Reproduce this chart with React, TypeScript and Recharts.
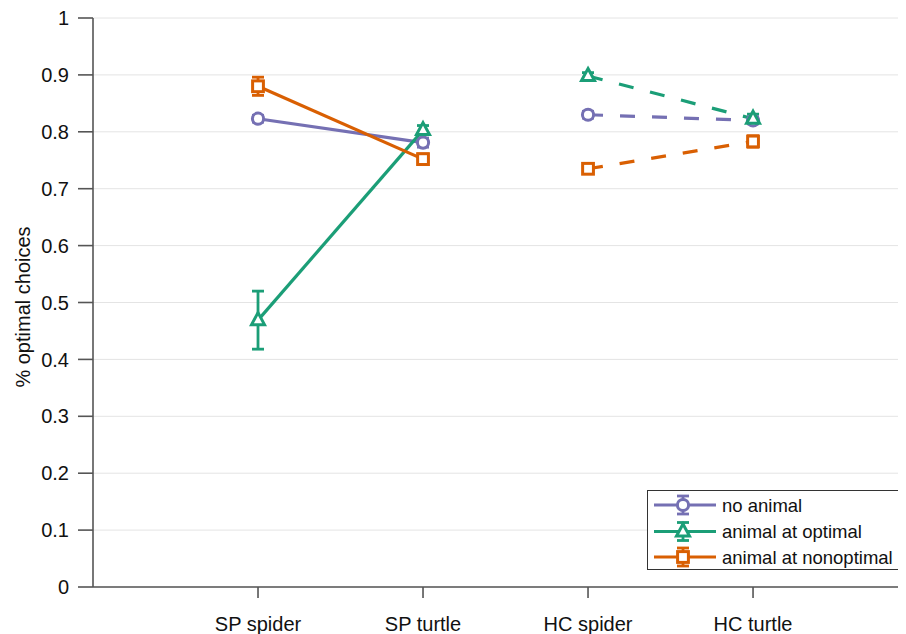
import React from 'react';
import { LineChart, Line, XAxis, YAxis, CartesianGrid, ErrorBar } from 'recharts';

const categories = ['SP spider', 'SP turtle', 'HC spider', 'HC turtle'];
const seriesNames = ['no animal', 'animal at optimal', 'animal at nonoptimal'];
const noAnimal = [0.823, 0.781, 0.830, 0.820];
const noAnimalErr = [0.006, 0.008, 0.006, 0.006];
const optimal = [0.469, 0.803, 0.898, 0.823];
const optimalErr = [0.051, 0.008, 0.006, 0.008];
const nonoptimal = [0.880, 0.752, 0.735, 0.783];
const nonoptimalErr = [0.016, 0.009, 0.006, 0.010];
const yTicks = [0, 0.1, 0.2, 0.3, 0.4, 0.5, 0.6, 0.7, 0.8, 0.9, 1];

const COLORS = ['#7570b3', '#1b9e77', '#d95f02'];
const FONT = '"Liberation Sans", Arial, Helvetica, sans-serif';
const W = 898;
const H = 626;

type Shape = 'circle' | 'triangle' | 'square';

function markerEl(shape: Shape, color: string, cx: number, cy: number, key?: string | number) {
  const sw = 3;
  if (shape === 'circle') {
    return <circle key={key} cx={cx} cy={cy} r={5.6} fill="#fff" stroke={color} strokeWidth={sw} />;
  }
  if (shape === 'square') {
    return <rect key={key} x={cx - 5.4} y={cy - 5.4} width={10.8} height={10.8} fill="#fff" stroke={color} strokeWidth={sw} />;
  }
  const pts = `${cx},${cy - 7.5} ${cx + 6.5},${cy + 4.5} ${cx - 6.5},${cy + 4.5}`;
  return <polygon key={key} points={pts} fill="#fff" stroke={color} strokeWidth={sw} strokeLinejoin="miter" />;
}

const makeDot = (shape: Shape, color: string) => (props: any) => {
  const { cx, cy, index } = props;
  if (cx == null || cy == null) return <g key={`d-${index}`} />;
  return markerEl(shape, color, cx, cy, `d-${index}`);
};

function build(vals: number[], errs: number[], idx: number[]) {
  return idx.map((i) => ({ x: i + 1, y: vals[i], err: errs[i] }));
}

const series = [
  { name: seriesNames[0], vals: noAnimal, errs: noAnimalErr, color: COLORS[0], shape: 'circle' as Shape },
  { name: seriesNames[1], vals: optimal, errs: optimalErr, color: COLORS[1], shape: 'triangle' as Shape },
  { name: seriesNames[2], vals: nonoptimal, errs: nonoptimalErr, color: COLORS[2], shape: 'square' as Shape },
];

const YLabel = () => (
  <text
    x={15}
    y={299}
    transform="rotate(-90 15 299)"
    textAnchor="middle"
    dominantBaseline="central"
    fontSize={20}
    fill="#111"
    fontFamily={FONT}
  >
    % optimal choices
  </text>
);

const fmtY = (v: number) => (v === 0 ? '0' : v === 1 ? '1' : v.toFixed(1));

function LegendBox() {
  const rows = [15, 41.5, 67];
  return (
    <svg
      width={254}
      height={81}
      style={{ position: 'absolute', left: 639, top: 482, pointerEvents: 'none' }}
    >
      <rect x={0.5} y={0.5} width={252} height={79} fill="#fff" stroke="#333" strokeWidth={1} />
      {series.map((s, i) => {
        const y = rows[i];
        return (
          <g key={s.name}>
            <line x1={7} y1={y} x2={69} y2={y} stroke={s.color} strokeWidth={3.2} />
            <line x1={36} y1={y - 9} x2={36} y2={y + 9} stroke={s.color} strokeWidth={2.8} />
            <line x1={30} y1={y - 9} x2={42} y2={y - 9} stroke={s.color} strokeWidth={2.8} />
            <line x1={30} y1={y + 9} x2={42} y2={y + 9} stroke={s.color} strokeWidth={2.8} />
            {markerEl(s.shape, s.color, 36, y)}
            <text x={75} y={y} dominantBaseline="central" fontSize={18.5} fill="#111" fontFamily={FONT}>
              {s.name}
            </text>
          </g>
        );
      })}
    </svg>
  );
}

export default function App() {
  return (
    <div style={{ position: 'relative', width: W, height: H, fontFamily: FONT }}>
      <LineChart width={W} height={H} margin={{ top: 10, right: 0, bottom: 0, left: 0 }}>
        <CartesianGrid horizontal vertical={false} stroke="#e4e4e4" strokeWidth={1} />
        <XAxis
          type="number"
          dataKey="x"
          domain={[0, 4.927]}
          ticks={[1, 2, 3, 4]}
          interval={0}
          allowDataOverflow
          tickFormatter={(v: number) => categories[Math.round(v) - 1] ?? ''}
          height={47}
          tickSize={11}
          tickMargin={19}
          stroke="#555"
          strokeWidth={1.6}
          tick={{ fill: '#111', fontSize: 20, fontFamily: FONT }}
        />
        <YAxis
          type="number"
          domain={[0, 1]}
          ticks={yTicks}
          interval={0}
          allowDataOverflow
          tickFormatter={fmtY}
          width={85}
          tickSize={15}
          tickMargin={9}
          stroke="#555"
          strokeWidth={1.6}
          tick={{ fill: '#111', fontSize: 20, fontFamily: FONT }}
          label={<YLabel />}
        />
        {series.map((s) => (
          <Line
            key={`${s.name}-sp`}
            data={build(s.vals, s.errs, [0, 1])}
            dataKey="y"
            type="linear"
            stroke={s.color}
            strokeWidth={3.2}
            dot={makeDot(s.shape, s.color)}
            activeDot={false}
            isAnimationActive={false}
            legendType="none"
          >
            <ErrorBar dataKey="err" direction="y" width={6} stroke={s.color} strokeWidth={2.8} />
          </Line>
        ))}
        {series.map((s) => (
          <Line
            key={`${s.name}-hc`}
            data={build(s.vals, s.errs, [2, 3])}
            dataKey="y"
            type="linear"
            stroke={s.color}
            strokeWidth={3.2}
            strokeDasharray="15 17"
            dot={makeDot(s.shape, s.color)}
            activeDot={false}
            isAnimationActive={false}
            legendType="none"
          >
            <ErrorBar dataKey="err" direction="y" width={6} stroke={s.color} strokeWidth={2.8} />
          </Line>
        ))}
      </LineChart>
      <LegendBox />
    </div>
  );
}
